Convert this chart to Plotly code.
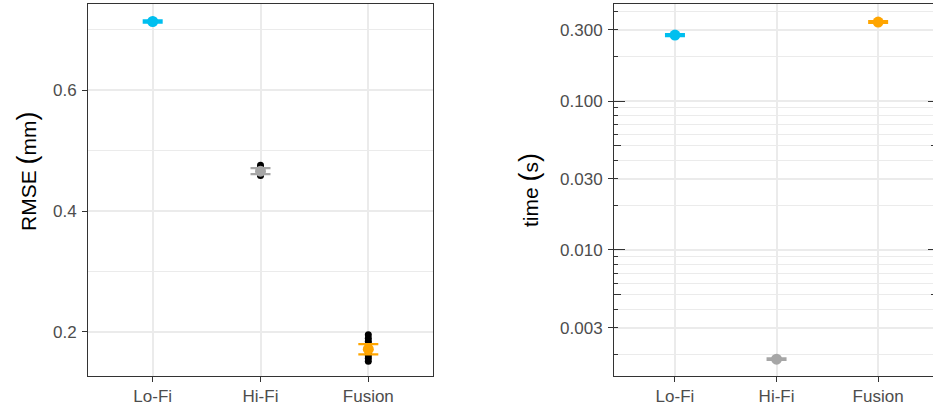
import numpy as np
import plotly.graph_objects as go

# ---- data -------------------------------------------------------------
methods = ["Lo-Fi", "Hi-Fi", "Fusion"]
colors = ["#00BFEF", "#A6A6A6", "#FFA500"]

# RMSE (mm): summary point, error half-width, and the individual runs
rmse_mean = [0.714, 0.466, 0.171]
rmse_err = [0.002, 0.005, 0.0085]
rmse_runs = {
    "Lo-Fi": [0.712, 0.713, 0.714, 0.715, 0.716],
    "Hi-Fi": [0.459, 0.461, 0.463, 0.465, 0.466, 0.468, 0.470, 0.472, 0.476],
    "Fusion": [0.151, 0.156, 0.160, 0.164, 0.167, 0.170, 0.173, 0.176,
               0.180, 0.184, 0.189, 0.195],
}

# run time (s)
time_mean = [0.277, 0.00185, 0.339]
time_err = [0.004, 0.00002, 0.005]

# tick labels
rmse_ticks = [0.2, 0.4, 0.6]
rmse_minor = [0.3, 0.5, 0.7]
time_ticks = [0.003, 0.01, 0.03, 0.1, 0.3]
time_ticktext = ["0.003", "0.010", "0.030", "0.100", "0.300"]

# ---- styling ----------------------------------------------------------
FONT = "Liberation Sans, Arial, sans-serif"
TICK_FONT = dict(family=FONT, size=17, color="#4D4D4D")
GRID = "#EBEBEB"
LINE = "#333333"
W, H = 933, 411

rmse_range = [0.1266, 0.743]
time_range = [np.log10(0.001426), np.log10(0.448)]

# log-scale grid / tick positions: every k * 10^n within range
decades = [0.001, 0.01, 0.1]
all_log = [k * d for d in decades for k in range(1, 10)]
log_minor_grid = [v for v in all_log if not any(np.isclose(v, t) for t in time_ticks)]
log_long = [0.01, 0.1]
log_mid = [0.005, 0.05]
log_short = [k * d for d in decades for k in (2, 3, 4, 6, 7, 8, 9)]

fig = go.Figure()

# individual runs (black), drawn underneath the summaries
for m in methods:
    fig.add_trace(go.Scatter(
        x=[m] * len(rmse_runs[m]), y=rmse_runs[m], mode="markers",
        marker=dict(color="black", size=7), showlegend=False,
        xaxis="x", yaxis="y", hoverinfo="y"))

# RMSE summaries
for m, v, e, c in zip(methods, rmse_mean, rmse_err, colors):
    fig.add_trace(go.Scatter(
        x=[m], y=[v], mode="markers",
        marker=dict(color=c, size=11),
        error_y=dict(type="data", array=[e], color=c, thickness=2.2, width=10),
        showlegend=False, xaxis="x", yaxis="y"))

# time summaries
for m, v, e, c in zip(methods, time_mean, time_err, colors):
    fig.add_trace(go.Scatter(
        x=[m], y=[v], mode="markers",
        marker=dict(color=c, size=11),
        error_y=dict(type="data", array=[e], color=c, thickness=2.2, width=10),
        showlegend=False, xaxis="x2", yaxis="y2"))

x_common = dict(
    type="category", categoryorder="array", categoryarray=methods,
    showgrid=True, gridcolor=GRID, gridwidth=1.6,
    showline=True, linecolor=LINE, linewidth=1, mirror=True,
    ticks="outside", ticklen=5, tickcolor=LINE, tickwidth=1,
    tickfont=TICK_FONT, zeroline=False,
)

fig.update_layout(
    width=W, height=H,
    margin=dict(l=0, r=0, t=0, b=0),
    paper_bgcolor="white", plot_bgcolor="white",
    font=dict(family=FONT),
    xaxis=dict(x_common, domain=[88 / W, 433 / W], range=[-0.6, 2.6],
               anchor="y", automargin=False),
    yaxis=dict(domain=[1 - 376 / H, 1 - 4 / H], range=rmse_range, anchor="x",
               tickvals=rmse_ticks, ticktext=["0.2", "0.4", "0.6"],
               showgrid=True, gridcolor=GRID, gridwidth=1.6,
               minor=dict(tickvals=rmse_minor, showgrid=True, gridcolor=GRID,
                          gridwidth=0.8, ticks=""),
               showline=True, linecolor=LINE, linewidth=1, mirror=True,
               ticks="outside", ticklen=5, tickcolor=LINE, tickwidth=1,
               ticklabelstandoff=2,
               tickfont=TICK_FONT, zeroline=False, automargin=False),
    xaxis2=dict(x_common, domain=[614 / W, 1.0], range=[-0.6, 2.54],
                anchor="y2", automargin=False),
    yaxis2=dict(domain=[1 - 376 / H, 1 - 4 / H], type="log", range=time_range,
                anchor="x2", tickmode="array", tickvals=time_ticks,
                ticktext=time_ticktext,
                showgrid=True, gridcolor=GRID, gridwidth=1.6,
                minor=dict(tickmode="array", tickvals=log_minor_grid,
                           showgrid=True, gridcolor=GRID, gridwidth=0.8,
                           ticks=""),
                showline=True, linecolor=LINE, linewidth=1, mirror=False,
                ticks="outside", ticklen=5, tickcolor=LINE, tickwidth=1,
                ticklabelstandoff=2,
                tickfont=TICK_FONT, zeroline=False, automargin=False),
)

# log tick marks (long at decades, mid at fives, short elsewhere)
def logtick_axis(vals, length, side):
    return dict(overlaying="y2", anchor="x2", type="log", range=time_range,
                side=side, tickmode="array", tickvals=vals, ticks="inside",
                ticklen=length, tickcolor=LINE, tickwidth=1,
                showticklabels=False, showgrid=False, showline=False,
                zeroline=False, automargin=False)

logtick_specs = [
    ("yaxis3", log_long, 11, "left"),
    ("yaxis4", log_mid, 7.4, "left"),
    ("yaxis5", log_short, 3.7, "left"),
    ("yaxis6", log_long, 5.5, "right"),
    ("yaxis7", log_mid, 1.8, "right"),
]
for name, vals, length, side in logtick_specs:
    fig.update_layout({name: logtick_axis(vals, length, side)})
    # empty trace so the overlay axis is rendered
    fig.add_trace(go.Scatter(x=[None], y=[None], xaxis="x2",
                             yaxis="y" + name[5:], mode="markers",
                             showlegend=False, hoverinfo="skip"))

# axis titles
paren = "<span style='font-size:27px'>(</span>"
cparen = "<span style='font-size:27px'>)</span>"
fig.add_annotation(text="RMSE " + paren + "mm" + cparen, textangle=-90,
                   xref="paper", yref="paper", x=27 / W, y=1 - 171 / H,
                   xanchor="center", yanchor="middle", showarrow=False,
                   font=dict(family=FONT, size=21, color="black"))
fig.add_annotation(text="time " + paren + "s" + cparen, textangle=-90,
                   xref="paper", yref="paper", x=529 / W, y=1 - 190 / H,
                   xanchor="center", yanchor="middle", showarrow=False,
                   font=dict(family=FONT, size=21, color="black"))

fig.write_html("out.html")
